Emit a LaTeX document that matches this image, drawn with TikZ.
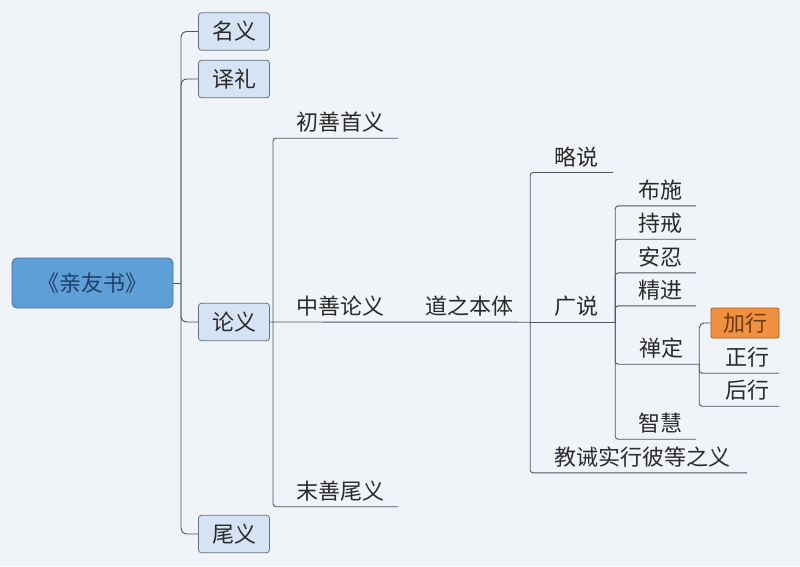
\documentclass[tikz,border=0pt]{standalone}
\usepackage{fontspec}
\setmainfont{Noto Sans CJK SC}
\usetikzlibrary{positioning}
\definecolor{bgcol}{HTML}{F0F3F7}
\definecolor{linecol}{HTML}{4F555C}
\definecolor{txtcol}{HTML}{2A2A2A}
\definecolor{rootfill}{HTML}{5F9FD7}
\definecolor{rootline}{HTML}{44739F}
\definecolor{roottext}{HTML}{1F3F66}
\definecolor{boxfill}{HTML}{D5E3F5}
\definecolor{boxline}{HTML}{66717E}
\definecolor{hotfill}{HTML}{F0913F}
\definecolor{hotline}{HTML}{A85A1C}
\definecolor{hottext}{HTML}{6E3A12}
\tikzset{
  rootbox/.style={draw=rootline, fill=rootfill, rounded corners=5pt, line width=0.8pt,
    minimum width=161pt, minimum height=50pt, text=roottext},
  lvlbox/.style={draw=boxline, fill=boxfill, rounded corners=3pt, line width=0.8pt,
    minimum width=71pt, minimum height=37.5pt, text=txtcol},
  hotbox/.style={draw=hotline, fill=hotfill, rounded corners=2pt, line width=0.8pt,
    minimum width=68pt, minimum height=30pt, text=hottext},
  topic/.style={minimum height=31pt, inner sep=0pt, text=txtcol},
  link/.style={draw=linecol, line width=0.9pt},
}

\begin{document}
\begin{tikzpicture}[x=1pt, y=-1pt, font=\fontsize{22}{26}\selectfont]
  \fill[bgcol] (0,0) rectangle (800,566);

  % root and first level
  \node[rootbox] (root) at (92.5,283) {《亲友书》};
  \node[lvlbox] (ming) at (234,31.5) {名义};
  \node[lvlbox] (yili) at (234,79) {译礼};
  \node[lvlbox] (lun)  at (234,322) {论义};
  \node[lvlbox] (wei)  at (234,534) {尾义};

  % three parts of the treatise
  \node[topic, minimum width=116pt] (cs) at (340,122.5) {初善首义};
  \node[topic, minimum width=135pt] (zs) at (340.5,306.5) {中善论义};
  \node[topic, minimum width=116pt] (ms) at (340,491) {末善尾义};
  \node[topic, minimum width=122pt] (dz) at (469,306.5) {道之本体};

  \node[topic, minimum width=73pt]  (lue)   at (576.5,156.8) {略说};
  \node[topic, minimum width=78pt]  (guang) at (576,306.5) {广说};
  \node[topic, minimum width=209pt] (jj)    at (642.5,457.2) {教诫实行彼等之义};

  % six perfections
  \node[topic, minimum width=72pt] (bs)   at (660,190.2) {布施};
  \node[topic, minimum width=72pt] (cj)   at (660,223.5) {持戒};
  \node[topic, minimum width=72pt] (ar)   at (660,257.2) {安忍};
  \node[topic, minimum width=72pt] (jin)  at (660,290.2) {精进};
  \node[topic, minimum width=76pt] (chan) at (661,348.5) {禅定};
  \node[topic, minimum width=72pt] (zh)   at (660,423.5) {智慧};

  \node[hotbox] (jx) at (745,323) {加行};
  \node[topic, minimum width=64pt] (zx) at (747,357.5) {正行};
  \node[topic, minimum width=64pt] (hx) at (747,390.5) {后行};

  % connectors
  \coordinate (rootj) at (181,283);
  \coordinate (lunj) at (273,322);
  \draw[link] (root.east) -- (rootj);
  \foreach \n in {ming,yili,lun,wei}
    \draw[link, rounded corners=6pt] (rootj) |- (\n.west);

  \draw[link] (lun.east) -- (dz.south east);
  \foreach \n in {cs,ms}
    \draw[link, rounded corners=3pt] (lunj) |- (\n.south east);

  \draw[link] (dz.south east) -- (guang.south east);
  \foreach \n in {lue,jj}
    \draw[link, rounded corners=3pt] (dz.south east) |- (\n.south east);

  \foreach \n in {bs,cj,ar,jin,chan,zh}
    \draw[link, rounded corners=3pt] (guang.south east) |- (\n.south east);

  \draw[link, rounded corners=5pt] (chan.south east) |- (jx.west);
  \foreach \n in {zx,hx}
    \draw[link, rounded corners=3pt] (chan.south east) |- (\n.south east);
\end{tikzpicture}
\end{document}
